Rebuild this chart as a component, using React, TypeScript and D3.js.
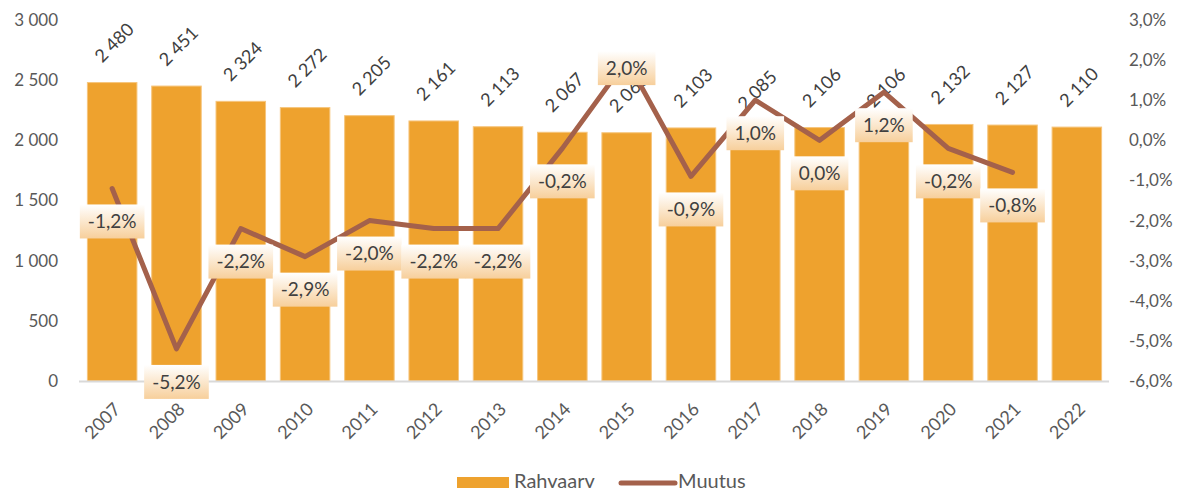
import React, { useEffect, useRef } from "react";
import * as d3 from "d3";

const years = [
  "2007", "2008", "2009", "2010", "2011", "2012", "2013", "2014",
  "2015", "2016", "2017", "2018", "2019", "2020", "2021", "2022",
];
const population = [
  2480, 2451, 2324, 2272, 2205, 2161, 2113, 2067,
  2063, 2103, 2085, 2106, 2106, 2132, 2127, 2110,
];
// yearly change in %, last year has none
const change = [
  -1.2, -5.2, -2.2, -2.9, -2.0, -2.2, -2.2, -0.2,
  2.0, -0.9, 1.0, 0.0, 1.2, -0.2, -0.8,
];
const leftTicks = [0, 500, 1000, 1500, 2000, 2500, 3000];
const rightTicks = [-6, -5, -4, -3, -2, -1, 0, 1, 2, 3];
// labels that were dragged up onto their point in the original
const raisedLabels = ["2015"];

const FONT = "Lato, 'Open Sans', sans-serif";
const BAR = "#EEA22E";
const LINE = "#A4614B";
const TEXT = "#404040";
const AXIS_TEXT = "#595959";

const fmtThousands = (v: number) =>
  v >= 1000 ? `${Math.floor(v / 1000)} ${String(v % 1000).padStart(3, "0")}` : String(v);
const fmtPct = (v: number) => `${v.toFixed(1).replace(".", ",").replace("-0,0", "0,0")}%`;

function App() {
  const svgRef = useRef<SVGSVGElement | null>(null);
  const width = 1182;
  const height = 488;
  const margin = { top: 20, right: 72, bottom: 107, left: 80 };

  useEffect(() => {
    const svg = d3.select(svgRef.current);
    svg.selectAll("*").remove();

    const x = d3
      .scaleBand<string>()
      .domain(years)
      .range([margin.left, width - margin.right - 1])
      .paddingInner(0.23)
      .paddingOuter(0.115);
    const yLeft = d3.scaleLinear().domain([0, 3000]).range([height - margin.bottom, margin.top]);
    const yRight = d3.scaleLinear().domain([-6, 3]).range([height - margin.bottom, margin.top]);

    const defs = svg.append("defs");
    const grad = defs
      .append("linearGradient")
      .attr("id", "lblGrad")
      .attr("x1", 0)
      .attr("y1", 0)
      .attr("x2", 0)
      .attr("y2", 1);
    grad.append("stop").attr("offset", "0%").attr("stop-color", "#FFFFFF");
    grad.append("stop").attr("offset", "100%").attr("stop-color", "#F7CF9B");

    // left axis labels
    svg
      .append("g")
      .selectAll("text")
      .data(leftTicks)
      .join("text")
      .attr("x", 58)
      .attr("y", (d) => yLeft(d))
      .attr("dy", "0.35em")
      .attr("text-anchor", "end")
      .attr("font-family", FONT)
      .attr("font-size", 17)
      .attr("fill", AXIS_TEXT)
      .text((d) => fmtThousands(d));

    // right axis labels
    svg
      .append("g")
      .selectAll("text")
      .data(rightTicks)
      .join("text")
      .attr("x", 1129)
      .attr("y", (d) => yRight(d))
      .attr("dy", "0.35em")
      .attr("text-anchor", "start")
      .attr("font-family", FONT)
      .attr("font-size", 17)
      .attr("fill", AXIS_TEXT)
      .text((d) => fmtPct(d));

    // bars
    svg
      .append("g")
      .selectAll("rect")
      .data(years)
      .join("rect")
      .attr("x", (d) => x(d)!)
      .attr("y", (_, i) => yLeft(population[i]))
      .attr("width", x.bandwidth())
      .attr("height", (_, i) => yLeft(0) - yLeft(population[i]))
      .attr("fill", BAR)
      .attr("stroke", "#F6C57C")
      .attr("stroke-width", 1);

    // x axis line
    svg
      .append("line")
      .attr("x1", margin.left - 1)
      .attr("x2", width - margin.right - 1)
      .attr("y1", yLeft(0) + 0.5)
      .attr("y2", yLeft(0) + 0.5)
      .attr("stroke", "#D9D9D9")
      .attr("stroke-width", 2);

    // x axis labels
    svg
      .append("g")
      .selectAll("text")
      .data(years)
      .join("text")
      .attr("transform", (d) => `translate(${x(d)! + x.bandwidth() / 2 + 5},${yLeft(0) + 25}) rotate(-45)`)
      .attr("text-anchor", "end")
      .attr("dy", "0.35em")
      .attr("font-family", FONT)
      .attr("font-size", 18)
      .attr("fill", AXIS_TEXT)
      .text((d) => d);

    // bar value labels
    svg
      .append("g")
      .selectAll("text")
      .data(years)
      .join("text")
      .attr(
        "transform",
        (d, i) => `translate(${x(d)! + x.bandwidth() / 2 + 2},${yLeft(population[i]) - 40}) rotate(-45)`,
      )
      .attr("text-anchor", "middle")
      .attr("dy", "0.35em")
      .attr("font-family", FONT)
      .attr("font-size", 18)
      .attr("fill", TEXT)
      .text((_, i) => fmtThousands(population[i]));

    // change line
    const lineData = change.map((v, i) => ({ year: years[i], v }));
    const line = d3
      .line<{ year: string; v: number }>()
      .x((d) => x(d.year)! + x.bandwidth() / 2)
      .y((d) => yRight(d.v));
    svg
      .append("path")
      .datum(lineData)
      .attr("d", line)
      .attr("fill", "none")
      .attr("stroke", LINE)
      .attr("stroke-width", 5)
      .attr("stroke-linejoin", "round")
      .attr("stroke-linecap", "round");

    // change labels
    const lblG = svg.append("g");
    lineData.forEach((d) => {
      const cx = x(d.year)! + x.bandwidth() / 2;
      const cy = yRight(d.v) + (raisedLabels.includes(d.year) ? 8 : 33);
      const g = lblG.append("g");
      const rect = g.append("rect");
      const t = g
        .append("text")
        .attr("x", cx)
        .attr("y", cy)
        .attr("dy", "0.35em")
        .attr("text-anchor", "middle")
        .attr("font-family", FONT)
        .attr("font-size", 19)
        .attr("fill", TEXT)
        .text(fmtPct(d.v));
      const w = (t.node() as SVGTextElement).getComputedTextLength();
      rect
        .attr("x", cx - w / 2 - 8)
        .attr("y", cy - 17)
        .attr("width", w + 16)
        .attr("height", 34)
        .attr("fill", "url(#lblGrad)");
    });

    // legend
    const lg = svg.append("g");
    lg.append("rect").attr("x", 457).attr("y", 477).attr("width", 52).attr("height", 14).attr("fill", BAR);
    lg.append("text")
      .attr("x", 514)
      .attr("y", 488)
      .attr("font-family", FONT)
      .attr("font-size", 20)
      .attr("fill", AXIS_TEXT)
      .text("Rahvaarv");
    lg.append("line")
      .attr("x1", 621)
      .attr("x2", 675)
      .attr("y1", 483)
      .attr("y2", 483)
      .attr("stroke", LINE)
      .attr("stroke-width", 5)
      .attr("stroke-linecap", "round");
    lg.append("text")
      .attr("x", 678)
      .attr("y", 488)
      .attr("font-family", FONT)
      .attr("font-size", 20)
      .attr("fill", AXIS_TEXT)
      .text("Muutus");
  }, []);

  return (
    <svg
      ref={svgRef}
      width={width}
      height={height}
      style={{ position: "absolute", left: 0, top: 0, background: "#FFFFFF" }}
    />
  );
}

export default App;
